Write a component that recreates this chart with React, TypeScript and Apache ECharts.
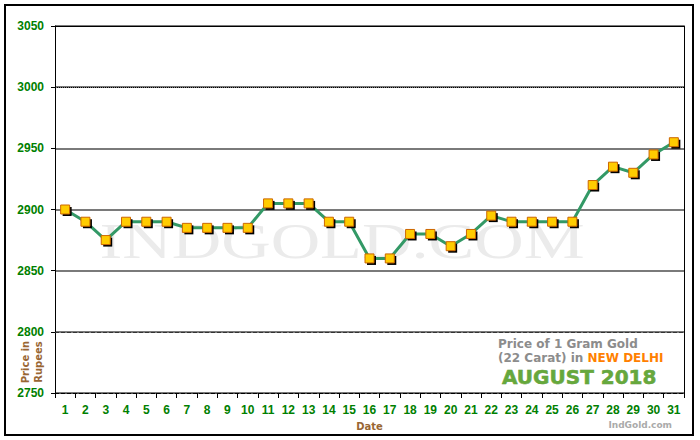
import { useEffect, useRef } from 'react';
import * as echarts from 'echarts';

// ---------------------------------------------------------------------------
// Data
// ---------------------------------------------------------------------------

const days = [
  '1', '2', '3', '4', '5', '6', '7', '8', '9', '10',
  '11', '12', '13', '14', '15', '16', '17', '18', '19', '20',
  '21', '22', '23', '24', '25', '26', '27', '28', '29', '30', '31',
];

// price of 1 gram 22 carat gold, New Delhi, August 2018 (Rs)
const prices = [
  2900, 2890, 2875, 2890, 2890, 2890, 2885, 2885, 2885, 2885,
  2905, 2905, 2905, 2890, 2890, 2860, 2860, 2880, 2880, 2870,
  2880, 2895, 2890, 2890, 2890, 2890, 2920, 2935, 2930, 2945, 2955,
];

const yTicks = [2750, 2800, 2850, 2900, 2950, 3000, 3050];

const GREEN = '#008000';
const BROWN = '#996633';
const SANS = '"DejaVu Sans", Verdana, sans-serif';
const ARIAL = '"Liberation Sans", Arial, sans-serif';

// ---------------------------------------------------------------------------
// Option
// ---------------------------------------------------------------------------

function buildOption(): echarts.EChartsOption {
  const yMin = yTicks[0];
  const yMax = yTicks[yTicks.length - 1];
  const step = yTicks[1] - yTicks[0];

  return {
    animation: false,
    grid: { left: 55, right: 16, top: 26, bottom: 47 },
    xAxis: {
      type: 'category',
      data: days,
      boundaryGap: true,
      axisLine: { lineStyle: { color: '#000', type: 'dashed', width: 1 } },
      axisTick: { show: true, length: 5, lineStyle: { color: '#000' } },
      axisLabel: {
        color: GREEN, fontWeight: 'bold', fontSize: 12, fontFamily: ARIAL, margin: 11,
        interval: 0,
      },
      name: 'Date',
      nameLocation: 'middle',
      nameGap: 28,
      nameTextStyle: { color: BROWN, fontWeight: 'bold', fontSize: 10, fontFamily: SANS },
      splitLine: { show: false },
    },
    yAxis: [
      {
        type: 'value',
        min: yMin,
        max: yMax,
        interval: step,
        axisLine: { show: true, lineStyle: { color: '#000' } },
        axisTick: { show: true, length: 4, lineStyle: { color: '#000' } },
        axisLabel: {
          color: GREEN, fontWeight: 'bold', fontSize: 12, fontFamily: ARIAL, margin: 11,
          formatter: (v: number) => String(v),
        },
        splitLine: { show: true, lineStyle: { color: '#7a7a7a', width: 2 } },
      },
      {
        type: 'value',
        position: 'right',
        min: yMin,
        max: yMax,
        interval: step,
        axisLine: { show: true, lineStyle: { color: '#000' } },
        axisTick: { show: false },
        axisLabel: { show: false },
        splitLine: { show: false },
      },
    ],
    series: [
      {
        type: 'line',
        data: prices,
        symbol: 'none',
        lineStyle: { color: '#339966', width: 3 },
        z: 3,
        markLine: {
          silent: true,
          symbol: ['none', 'none'],
          label: { show: false },
          data: [
            { yAxis: yMax, lineStyle: { color: '#000', type: 'solid', width: 1 } },
            { yAxis: 3000, lineStyle: { color: '#000', type: 'dotted', width: 1 } },
            { yAxis: 2800, lineStyle: { color: '#333', type: 'dashed', width: 1 } },
          ],
        },
      },
      {
        type: 'scatter',
        data: prices,
        symbol: 'rect',
        symbolSize: 9,
        symbolOffset: [2, 2],
        itemStyle: { color: '#000', opacity: 1 },
        z: 4,
      },
      {
        type: 'scatter',
        data: prices,
        symbol: 'rect',
        symbolSize: 9,
        itemStyle: { color: '#FFCC00', borderColor: '#CC6600', borderWidth: 1, opacity: 1 },
        z: 5,
      },
    ],
    graphic: [
      {
        type: 'rect',
        shape: { x: 5, y: 5, width: 688, height: 430 },
        style: { fill: 'none', stroke: '#000', lineWidth: 2 },
        silent: true,
      },
      {
        type: 'text',
        x: 342,
        y: 241,
        scaleX: 1.37,
        z: -10,
        silent: true,
        style: {
          text: 'INDGOLD.COM',
          font: '50px "Liberation Serif", "Times New Roman", serif',
          fill: '#ebebeb',
          align: 'center',
          verticalAlign: 'middle',
        },
      },
      {
        type: 'text',
        x: 32,
        y: 362,
        rotation: Math.PI / 2,
        silent: true,
        style: {
          text: 'Price in\nRupees',
          font: `bold 10px ${SANS}`,
          fill: BROWN,
          align: 'center',
          verticalAlign: 'middle',
          lineHeight: 13,
        },
      },
      {
        type: 'text',
        x: 498,
        y: 344,
        silent: true,
        style: {
          text: 'Price of 1 Gram Gold',
          font: `bold 12px ${SANS}`,
          fill: '#8c8c8c',
          verticalAlign: 'middle',
        },
      },
      {
        type: 'text',
        x: 498,
        y: 358,
        silent: true,
        style: {
          text: '(22 Carat) in {o|NEW DELHI}',
          font: `bold 12px ${SANS}`,
          fill: '#8c8c8c',
          verticalAlign: 'middle',
          rich: {
            o: { fill: '#FF8000', fontWeight: 'bold', fontSize: 12, fontFamily: SANS },
          },
        },
      },
      {
        type: 'text',
        x: 502,
        y: 377,
        silent: true,
        style: {
          text: 'AUGUST 2018',
          font: `bold 20px ${SANS}`,
          fill: '#66a83c',
          stroke: '#4f8a2e',
          lineWidth: 0.5,
          verticalAlign: 'middle',
        },
      },
      {
        type: 'text',
        x: 672,
        y: 425,
        silent: true,
        style: {
          text: 'IndGold.com',
          font: `bold 9px ${SANS}`,
          fill: '#aaaaaa',
          align: 'right',
          verticalAlign: 'middle',
        },
      },
    ],
  };
}

// ---------------------------------------------------------------------------
// Component
// ---------------------------------------------------------------------------

export default function App() {
  const containerRef = useRef<HTMLDivElement | null>(null);

  useEffect(() => {
    if (!containerRef.current) return;
    const chart = echarts.init(containerRef.current, undefined, { renderer: 'svg' });
    chart.setOption(buildOption());
    return () => {
      chart.dispose();
    };
  }, []);

  return (
    <div
      ref={containerRef}
      style={{ position: 'fixed', left: 0, top: 0, width: 700, height: 440, background: '#fff' }}
    />
  );
}
